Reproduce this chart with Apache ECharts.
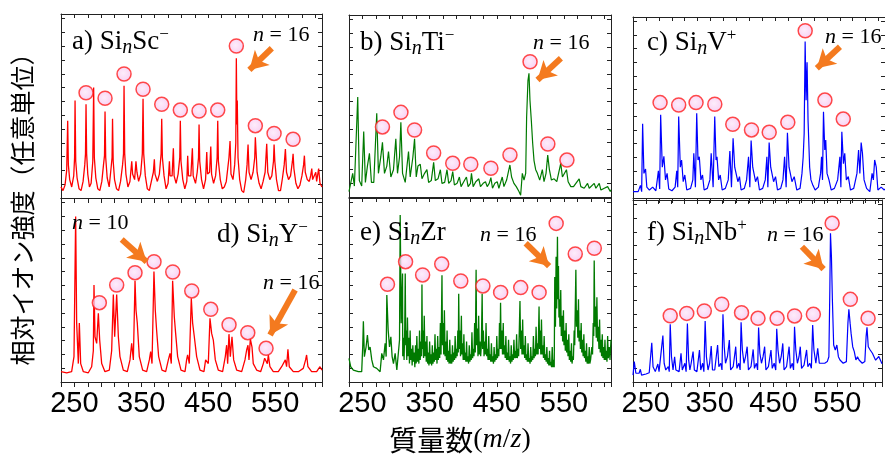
<!DOCTYPE html>
<html><head><meta charset="utf-8">
<script src="https://cdn.jsdelivr.net/npm/echarts@6/dist/echarts.min.js"></script>
<style>html,body{margin:0;padding:0;background:#fff}#c{width:885px;height:459px}</style>
</head><body><div id="c"></div>
<script>
const tickLabels = [250, 350, 450, 550];

const specA = [[230,6],[233,4],[236,7],[238.5,15],[240,42],[241,18],[243,10],[246,6],[249,12],[250.3,22],[251,53],[252,20],[254,11],[257,5],[260,4],[263,9],[265.5,18],[266.6,24],[267.4,51],[268.3,24],[270,13],[272.5,6],[275,8],[277.5,20],[278.8,60],[279.8,22],[282,11],[285,5],[288,4],[291,9],[293.5,18],[295,23],[295.8,47],[296.8,22],[299,11],[302,6],[305,17],[306.3,22],[307,43],[308,20],[310,10],[313,5],[316,4],[319,9],[322,18],[323.4,24],[324.2,61],[325.2,24],[327,13],[330,6],[333,9],[335.7,20],[337,13],[340,10],[342,20],[343.5,14],[346,9],[349,13],[351.5,24],[352.6,54],[353.6,24],[356,12],[359,5],[362,4],[365,9],[368,14],[369.5,21],[370.5,13],[374,9],[377,13],[379.6,24],[380.5,43],[381.5,22],[384,12],[387,5],[390,8],[392,20],[393,12],[396,12],[397.9,27],[399,12],[402,8],[405,13],[407.5,22],[408.3,42],[409.3,20],[412,10],[415,5],[418,9],[419.3,23],[420.5,12],[424,12],[426.3,27],[427.5,12],[431,8],[433.5,14],[435.5,22],[436.3,40],[437.3,20],[440,10],[443,5],[446,10],[447.8,25],[449,13],[452,14],[453.8,28],[455,13],[458,8],[461,12],[463.3,22],[464.2,42],[465.2,20],[468,10],[471,5],[474,6],[477,9],[479,10],[481,22],[482.6,31],[484,13],[487,10],[489.5,18],[491.2,30],[492,76],[492.8,40],[493.4,53],[494.5,22],[497,10],[500,4],[503,3],[506,10],[508,18],[509.5,29],[511,14],[514,10],[517,14],[519.5,22],[520.4,33],[521.5,25],[523,14],[526,8],[529,5],[532,9],[535,14],[537.4,29.5],[539,14],[542,10],[545,12],[547.5,20],[548.4,29],[549.5,20],[552,10],[555,4],[558,4],[561,11],[563.5,18],[565.3,26.6],[567,14],[570,10],[573,12],[575.8,20],[576.8,24],[578,16],[581,8],[584,5],[587,7],[590,12],[592.5,18],[593.7,23],[595,14],[598,10],[601,9],[603,12],[604.7,16],[606,10],[608,9],[610.7,14],[612,9],[614,8],[615,16],[617,8],[620,6]];

const specB = [[230,3],[231.5,2],[235.5,13],[238,6],[243,55],[245.4,9],[248.9,6],[251.9,36],[254.4,8],[257.4,17],[260.4,24],[263.4,8],[266.9,8],[271.3,46],[273.8,13],[277.3,22],[279.8,30],[282.8,13],[286.3,17],[288.8,25],[292.3,11],[296.2,15],[299.7,32],[302.2,13],[305.2,22],[307.2,41],[309.7,13],[313.7,8],[318.6,25],[321.1,11],[325.1,22],[327.6,32],[330.1,11],[332.6,17],[336.1,18],[338.6,10],[342.5,13],[346,15],[348.5,8],[352.5,9],[356,19],[358.5,9],[362.5,10],[366,15],[368.4,7.5],[372.4,8],[375.9,15],[378.4,7.5],[381.9,9],[384.4,14],[386.9,6.6],[390.9,7.5],[394.3,11],[396.8,5.7],[400.8,8.4],[404.8,11],[407.3,5.7],[410.8,7.5],[412.3,13],[414.8,5.7],[418.7,8.4],[423.2,10],[425.7,5.7],[429.7,7.5],[433.2,8.4],[435.7,5.7],[438.7,7.5],[441.2,10.6],[443.6,4.8],[447.1,7.5],[450.6,8.4],[453.1,4.8],[458.1,11],[460.6,5.7],[464.6,9.3],[469.5,17.6],[472,11],[475.5,7.5],[479,5.7],[483,3],[485.5,1],[488,13],[490.5,9.3],[493,13],[494.4,44],[496.4,64],[497.9,68],[499.4,53],[501.4,42],[503.4,29.5],[505.4,20],[507.9,15],[510.4,13],[513.9,9.3],[517.8,15],[520.3,8.4],[523.3,13],[525.8,23],[528.3,15],[531.3,9.3],[535.3,10],[539.3,8.4],[545.2,18.5],[547.7,11],[550.2,11],[553.7,15],[556.2,8.4],[560.2,5.7],[564.2,5.7],[572.6,10],[575.1,5.7],[580.1,4.8],[585.1,7.5],[587.6,4.8],[595,7.5],[597.5,4.8],[602.5,7.5],[605,3.8],[610,4.8],[615,5.7],[618.9,3],[620,4]];

const specC = [[230,3.5],[238,3.5],[241.5,7],[243.4,3.5],[244.9,41],[246.9,13.6],[249.4,16],[251.4,6],[255.4,4.4],[260.4,6],[265.4,4],[269.3,15],[271.3,5],[272.8,46],[275.3,17],[277.8,23],[280.3,10],[282.8,13.6],[285.3,5],[290.3,4],[295.2,6],[297.7,15],[299.2,6],[300.7,45],[303.2,17],[305.2,21],[307.7,9],[310.2,12.7],[313.2,4.4],[319.1,5.3],[322.6,10],[324.1,24.7],[326.6,6],[328.6,46.8],[330.6,21],[332.6,22.8],[335.1,10],[337.6,12.7],[340.1,4.4],[345,5.3],[349,10],[351,24.7],[354,6],[356.5,45],[358.5,21],[360,22.8],[362.5,10],[365,12.7],[368,4.4],[372.9,5.3],[377.4,10],[379.9,26],[382.4,6],[384.9,33],[387.4,17],[389.9,17],[392.3,9],[394.8,11.8],[397.3,4.4],[402.3,5.3],[405.8,10],[408.8,22.8],[410.8,6],[412.8,31.7],[415.3,17],[417.2,17],[419.7,9],[422.7,11.8],[425.7,4.4],[430.7,5.3],[434.7,10],[437.2,22.8],[438.7,6],[440.7,30.6],[443.1,17],[445.1,17],[447.6,9],[450.6,11.8],[453.6,4.4],[458.6,5.3],[462.1,10],[464.6,22.8],[467,6],[469,36],[471.5,17],[473.5,17],[476,9],[479.5,11.8],[483.5,4.4],[488.5,5.3],[491.5,13.6],[493.4,22.8],[494.9,35.7],[496.4,86.4],[497.9,54],[499.4,75],[500.9,43],[503.4,17],[505.4,10],[508.4,7],[511.9,4.4],[516.9,6],[520.3,13.6],[521.8,22.8],[523.3,10],[524.8,47.7],[526.8,26.5],[528.3,32],[530.3,13.6],[533.3,10],[536.8,4.4],[541.7,5.3],[546.7,10],[550.2,22.8],[551.7,6],[553.2,36.6],[555.7,19],[557.7,24.7],[560.2,10],[563.2,11.8],[566.6,4.4],[571.6,5.3],[576.6,13.6],[579.1,26.5],[581.1,13.6],[583.1,30.6],[585.1,24.7],[587.6,10],[591.5,5.3],[596.5,3.5],[600,13.6],[602,10],[604,21],[606.5,17],[609,4.4],[614,6],[618.9,4.4],[620,5]];

const specD = [[230,5.6],[238.5,5],[245.9,5.6],[249.4,13.8],[251.9,90],[253.4,32],[255.9,10],[257.4,32],[259.4,10],[263.4,5.6],[270.8,5],[275.8,8.3],[278.3,17],[279.3,52.7],[280.8,24.6],[283.3,21],[285.8,37.3],[287.8,22.8],[290.8,10],[295.7,5.6],[302.2,6.5],[305.7,17],[308.2,47.6],[310.2,24.6],[313.2,47.6],[315.7,24.6],[318.1,13.8],[323.1,6.5],[329.1,5.6],[333.1,12],[335.6,21],[338.1,12],[340.6,55],[342.1,39],[344,32],[347,13.8],[352,6.5],[358,5.6],[362,12],[364,16.5],[366,10],[368.9,60],[370.9,39],[372.9,28],[375.9,13.8],[380.9,6.5],[386.4,5.6],[390.4,12],[392.9,15.6],[394.8,10],[396.8,55],[399.3,35.5],[401.3,26.4],[404.3,13.8],[409.3,6.5],[415.3,5.6],[417.7,12],[419.2,14.7],[421.7,10],[424.7,45.5],[426.7,32],[429.2,24.6],[432.7,13.8],[437.7,6.5],[443.6,5.6],[446.1,12],[447.6,12.9],[450.1,10],[452.6,34.6],[455.1,26.4],[457.6,22.8],[460.6,12],[465,6.5],[471.5,5.6],[475.5,13.8],[477.5,20],[479,10],[481,26],[483,13.8],[485.5,24.6],[488,12],[492.5,6.5],[500,5.6],[504.9,12],[507.4,17.4],[509.4,20],[510.9,12],[512.9,23.4],[515.4,19],[517.3,10],[522.3,6.5],[528.3,5.6],[532.3,10],[534.3,12.9],[536.3,13.8],[538.3,10],[539.8,14.7],[542.2,8.3],[547.2,5.6],[554.7,5.6],[559.7,8.3],[565.2,12],[567.1,8.3],[569.1,17.8],[571.1,8.3],[577.1,5.6],[584.6,5.6],[592,7.4],[595.5,12],[597,14.7],[599,8.3],[604.5,5.6],[612,5.6],[617,8.3],[620,6.5]];

const specE = [[230,12.9],[232.5,8.3],[236.5,6.5],[243.9,5.6],[248.9,5.6],[250.4,19],[251.4,33],[252.9,13.8],[255.4,19],[257.4,25.5],[259.4,17.4],[261.4,19],[263.9,12],[266.4,8.3],[271.3,7.4],[276.3,5.6],[278.8,15.6],[281.3,12],[283.8,21],[285.3,13.8],[286.3,47.3],[288.3,28.3],[290.3,19],[292.3,24.6],[294.2,13.8],[296.2,10],[298.7,15.6],[301.2,6.5],[303.7,5.6],[305.2,22.8],[306.2,90.8],[307.7,31.9],[309.7,59],
[310,14],[311,24],[312,12],[313,30],[313.7,59],[314.5,20],[315,28],[316,12],[317,35],[318,14],[319,24],[320,10],[321,28],[322,12],[323,18],[324,9],[325,20],[326,11],[327,16],[328,8],[329,20],[330,10],[331,25],[332,11],[333,18],[334,10],[335,28],[336,12],[337,22],[338,14],[338.6,53],[339.3,18],[340,28],[341,13],[342,36],[343,14],[344,22],[345,11],[346,25],[347,10],[348,16],[349,9],[350,22],[351,10],[352,15],[353,9],[354,20],[355,10],[356,16],[357,11],[358,26],[359,12],[360,18],[361,10],[362,25],[363,12],[364,19],[365,13],[366,32],[367,15],[368.4,58],[369.2,20],[370,32],[371,15],[372,39],[373,14],[374,22],[375,12],[376,28],[377,11],[378,17],[379,10],[380,23],[381,10],[382,15],[383,10],[384,20],[385,11],[386,16],[387,12],[388,25],[389,13],[390,18],[391,14],[392,28],[392.7,16],[393.3,48],[394.2,18],[395,28],[396,14],[397.3,36],[398,15],[399,21],[400,12],[401,26],[402,12],[403,16],[404,11],[405,22],[406,11],[407,14],[408,10],[409,20],[410,11],[411,15],[412,12],[413,27],[414,13],[415,18],[416,14],[417,32],[418,16],[419.2,61],[420,20],[421,29],[422,14],[423,36],[424,15],[425,22],[426,14],[427,20],[428.2,48],[429,18],[430,28],[431,14],[432,22],[433,15],[434,32],[435,14],[436,18],[437,12],[438,25],[439,12],[440,15],[441,11],[442,21],[443,11],[444,14],[445,10],[446,19],[447,11],[448,15],[449,12],[450,25],[451,13],[452,18],[453,14],[454,32],[454.8,18],[455.6,43],[456.5,18],[457.5,28],[458.5,15],[459.6,32],[460.5,15],[461.5,20],[462.5,13],[463.5,25],[464.5,12],[465.5,16],[466.5,12],[467.5,23],[468.5,11],[469.5,14],[470.5,10],[471.5,20],[472.5,11],[473.5,15],[474.5,12],[475.5,23],[476.5,13],[477.5,17],[478.5,13],[479.5,26],[480.5,13],[481.5,18],[482.5,14],[483.5,28],[484.5,44],[485.5,18],[486.5,28],[487.5,15],[488.5,34],[489.5,15],[490.5,20],[491.5,13],[492.5,25],[493.5,12],[494.5,15],[495.5,11],[496.5,21],[497.5,11],[498.5,13],[499.5,10],[500.5,19],[501.5,11],[502.5,14],[503.5,12],[504.5,25],[505.5,13],[506.5,18],[507.5,14],[508.5,30],[509.5,15],[510.5,21],[511.5,15],[512.9,41],[513.7,18],[514.5,28],[515.5,15],[516.5,34],[517.5,15],[518.5,20],[519.5,13],[520.5,25],[521.5,12],[522.5,15],[523.5,11],[524.5,19],[525.5,10],[526.5,13],[527.5,9],[528.5,17],[529.5,9],[530.5,11],[531.5,8],[532.5,19],[533.5,8],[534.5,12],[535.5,8],
[536.3,57],[537.3,30],[538.3,68],[539.2,40],[540.3,79],[541,45],[541.8,63],[542.5,35],[543.2,45],[544,30],[545.2,50],[546,25],[547.2,36],[548,22],[549.2,39],[550,20],[551.2,28],[552,17],[553.2,32],[554,16],[555.2,23],[556,14],[557.2,26],[558,12],[559.2,17],[560,11],[561.2,21],[562,10],[563.2,14],[564,12],[565.2,28],[566,20],[566.8,40],[567.7,61],[568.6,30],[569.7,39],[570.6,24],[571.6,45],[572.5,22],[573.6,28],[574.5,18],[575.6,32],[576.5,16],[577.6,23],[578.5,14],[579.6,26],[580.5,13],[581.6,17],[582.5,11],[583.6,21],[584.5,10],[585.6,14],[586.5,10],[587.6,19],[588.5,10],[589.6,12],[590.5,11],[591.5,19],[592.5,15],[593.5,32],[594.3,25],[595,66],[596,30],[597,41],[598,24],[599,46],[600,22],[601,30],[602,18],[603,34],[604,16],[605,23],[606,14],[607,26],[608,13],[609,19],[610,12],[611,23],[612,12],[613,17],[614,11],[615,25],[616,13],[617.4,19],[618.5,12],[620,23]];

const specF = [[230,3.8],[232,11.2],[234.5,4.8],[239.5,4.8],[241.5,7],[243.4,3.8],[250.4,4.4],[255.4,5.1],[257.9,5.7],[259.4,21.6],[261.4,8.4],[264.9,5.7],[268.9,9.9],[270.8,5.7],[273.8,6.6],[276.8,25.5],[278.8,10.3],[281.3,6.6],[285.3,8.4],[286.8,5.7],[288.3,31.7],[290.3,13.9],[292.7,6.6],[295.2,13.9],[297.2,6.6],[302.2,5.7],[305.2,15.8],[307.2,6.6],[311.2,10.3],[313.2,5.7],[315.2,32.2],[317.2,12],[319.1,6.6],[321.1,10.3],[324.1,16.7],[326.1,6.6],[330.1,5.7],[334.1,17.6],[336.1,6.6],[339.1,10.3],[341,5.7],[343,33.5],[345,13.9],[347.5,6.6],[350,10.3],[352.5,19.8],[354.5,6.6],[358,6.6],[362.5,20.3],[364.5,8.4],[367.4,10.3],[369.4,6.6],[370.9,37.2],[372.9,19.4],[374.9,10.3],[377.9,13.9],[380.9,23],[382.9,6.6],[386.9,8.4],[390.9,19.4],[392.8,7.5],[395.8,10.3],[397.8,6.6],[399.3,32.8],[401.3,17.6],[403.8,10.3],[406.3,13.9],[408.8,19.4],[410.8,6.6],[414.8,8.4],[418.2,17.9],[420.2,7.5],[423.2,10.3],[425.2,6.6],[426.7,29.9],[428.7,15.8],[431.2,10.3],[433.7,13.9],[436.2,19.4],[438.2,6.6],[442.1,8.4],[446.1,17.6],[448.1,7.5],[451.1,10.3],[453.6,6.6],[455.1,29.3],[457.1,17.6],[459.6,10.3],[462.1,13.9],[464.6,21.2],[466.6,6.6],[470.5,8.4],[474.5,19.4],[476.5,7.5],[479.5,10.3],[481.5,6.6],[483,30.4],[485,17.6],[487.5,10.3],[490,13.9],[492,19.4],[494,7.5],[497.9,9.3],[501.9,17.6],[503.9,8.4],[506.9,10.3],[509.4,7.5],[511.4,31.3],[513.4,17.6],[516.4,10.3],[519.3,18.5],[521.8,10.3],[525.3,10.3],[530.3,10.3],[534.3,11.2],[536.8,13.9],[538.3,50.5],[539.3,81.7],[540.8,68.9],[542.3,45],[544.3,20.3],[546.8,17.6],[549.3,20.3],[551.7,13.9],[554.2,12.1],[559.2,10.3],[564.2,11.2],[566.6,32.2],[568.1,40],[570.1,32.2],[571.6,26.7],[574.1,19.4],[576.6,16.7],[579.1,12.1],[581.6,13.9],[584.1,12.1],[586.6,12.1],[589.1,10.3],[593.1,11.2],[595.1,24.9],[596.5,30],[598.5,19.4],[601.5,17.6],[605,15.8],[610,12],[615,14],[620,10]];

const circA = [[267.4,57.2],[295.8,54.2],[324.2,67.4],[352.6,59.1],[380.5,50.9],[408.3,47.8],[436.3,47.3],[464.2,47.8],[492,82.6],[520.4,39.3],[548.4,35.1],[576.8,31.9]];
const circB = [[279.8,38.5],[307.3,46.5],[327.6,36.8],[356,24.2],[384.4,18.5],[411.3,18],[441.2,15.8],[469.6,23.1],[499.5,74.3],[526,29.1],[554.4,20.3]];
const circC = [[271.9,52.7],[300.7,51.4],[327.6,52.7],[356.6,51.8],[384.4,40.7],[413.4,37.6],[440.8,36.3],[469.6,41.8],[496.5,92.4],[527,54.1],[555.4,43.6]];
const circD = [[287.3,43.1],[313.2,52.7],[340.6,59.4],[369,65.4],[397,59.8],[425.4,49.5],[453.8,39.5],[481.1,31.1],[509.1,26.8],[536.4,18.3]];
const circE = [[287.3,53.1],[314.2,65.4],[339.6,58.2],[368,64.1],[396.4,54.9],[429.3,52.2],[455.7,48.7],[485.6,51.3],[513,48.7],[538.4,86.2],[566.8,69.6],[595.2,72.7]];
const circF = [[288.3,36.4],[314.2,37.7],[341.7,39],[369,42.7],[400,38.1],[425.8,35],[455.7,35],[483.1,36.3],[512.5,37.2],[541.9,87.2],[570.4,45.4],[598.2,35]];

const arrowA = [[[545,81.4],[511.5,69.6]]];
const arrowB = [[[545.4,76.2],[510.6,64.3]]];
const arrowC = [[[550.3,83.6],[514.5,71.7]]];
const arrowD = [[[320.7,77.5],[358,65.4]],[[579.8,50],[542.4,25.5]]];
const arrowE = [[[493,75.4],[527.9,63]]];
const arrowF = [[[494.6,74.3],[528.5,62]]];

const SERIF = "'Liberation Serif','Times New Roman',serif";
const SANS = "'Liberation Sans','Arial',sans-serif";
const CJK = "'Noto Sans CJK JP','Noto Sans CJK SC',sans-serif";
const AX = '#222';

const panels = [
  {grid:{left:61,width:261,top:14,height:184}, spec:specA, circ:circA, arrows:arrowA, color:'#ff0000', lw:1.3, labels:false},
  {grid:{left:349,width:262,top:15,height:182}, spec:specB, circ:circB, arrows:arrowB, color:'#007a00', lw:1.2, labels:false},
  {grid:{left:633,width:261,top:17,height:181}, spec:specC, circ:circC, arrows:arrowC, color:'#0000ff', lw:1.2, labels:false},
  {grid:{left:61,width:261,top:198,height:184}, spec:specD, circ:circD, arrows:arrowD, color:'#ff0000', lw:1.3, labels:true},
  {grid:{left:349,width:262,top:198,height:184}, spec:specE, circ:circE, arrows:arrowE, color:'#007a00', lw:1.3, labels:true},
  {grid:{left:633,width:261,top:200,height:182}, spec:specF, circ:circF, arrows:arrowF, color:'#0000ff', lw:1.2, labels:true}
];

const grids=[], xAxes=[], yAxes=[], series=[];
panels.forEach((p,i)=>{
  grids.push(Object.assign({containLabel:false, show:false}, p.grid));
  const xb = xAxes.length;
  xAxes.push({type:'value', gridIndex:i, position:'bottom', min:230, max:620, interval:20,
    axisLine:{show:true,onZero:false,lineStyle:{color:AX,width:1}},
    axisTick:{show:true,inside:false,length:5,lineStyle:{color:AX}},
    axisLabel:{show:p.labels, margin:7, fontSize:29, fontFamily:SANS, color:'#000',
      formatter:v=> tickLabels.includes(v)? String(v):''},
    splitLine:{show:false}});
  xAxes.push({type:'value', gridIndex:i, position:'top', min:230, max:620, interval:20,
    axisLine:{show:true,onZero:false,lineStyle:{color:AX,width:1}},
    axisTick:{show:true,inside:true,length:4,lineStyle:{color:AX}},
    axisLabel:{show:false}, splitLine:{show:false}});
  const yb = yAxes.length;
  yAxes.push({type:'value', gridIndex:i, position:'left', min:0, max:100, interval:7.5,
    axisLine:{show:true,onZero:false,lineStyle:{color:AX,width:1}},
    axisTick:{show:true,inside:true,length:4,lineStyle:{color:AX}},
    axisLabel:{show:false}, splitLine:{show:false}});
  yAxes.push({type:'value', gridIndex:i, position:'right', min:0, max:100, interval:7.5,
    axisLine:{show:true,onZero:false,lineStyle:{color:AX,width:1}},
    axisTick:{show:true,inside:true,length:4,lineStyle:{color:AX}},
    axisLabel:{show:false}, splitLine:{show:false}});
  series.push({type:'line', xAxisIndex:xb, yAxisIndex:yb, data:p.spec, showSymbol:false,
    lineStyle:{color:p.color,width:p.lw}, silent:true, z:2});
  series.push({type:'scatter', xAxisIndex:xb, yAxisIndex:yb, data:p.circ, symbol:'circle', symbolSize:14,
    itemStyle:{color:{type:'radial',x:0.45,y:0.45,r:0.6,colorStops:[{offset:0,color:'#fde8fa'},{offset:1,color:'#f6c2ee'}]},
      borderColor:'#ff1e1e',borderWidth:1.5}, silent:true, z:4,
    markLine:{silent:true, symbol:['none','arrow'], symbolSize:[16,18], animation:false,
      label:{show:false}, lineStyle:{color:'#f47a1f',width:6,type:'solid'},
      emphasis:{disabled:true},
      data:p.arrows.map(a=>[{coord:a[0]},{coord:a[1]}])}
  });
});

const rich = {
  m:{fontFamily:SERIF,fontSize:27,fill:'#000'},
  i:{fontFamily:SERIF,fontSize:20,fontStyle:'italic',fill:'#000',padding:[12,0,0,0]},
  s:{fontFamily:SERIF,fontSize:17,fill:'#000',padding:[0,0,14,0]}
};
const nrich = {
  i:{fontFamily:SERIF,fontSize:22,fontStyle:'italic',fill:'#000'},
  t:{fontFamily:SERIF,fontSize:22,fill:'#000'}
};
function lab(x,y,text){return {type:'text',x:x,y:y,z:100,style:{text:text,rich:rich,align:'left',verticalAlign:'middle',fill:'#000'}};}
function nlab(x,y,num){return {type:'text',x:x,y:y,z:100,style:{text:'{i|n}{t| = '+num+'}',rich:nrich,align:'left',verticalAlign:'middle',fill:'#000'}};}

const graphics = [
  lab(72,42,'{m|a) Si}{i|n}{m|Sc}{s|−}'),
  lab(360,43,'{m|b) Si}{i|n}{m|Ti}{s|−}'),
  lab(647,43,'{m|c) Si}{i|n}{m|V}{s|+}'),
  lab(217,235,'{m|d) Si}{i|n}{m|Y}{s|−}'),
  lab(360,233,'{m|e) Si}{i|n}{m|Zr}'),
  lab(647,233,'{m|f) Si}{i|n}{m|Nb}{s|+}'),
  nlab(253,35,16), nlab(533,43,16), nlab(825,37,16),
  nlab(72,223,10), nlab(263,283,16), nlab(480,235,16), nlab(767,235,16),
  {type:'text', x:22, y:203, rotation:Math.PI/2, z:100,
    style:{text:'相対イオン強度（任意単位）', font:'25px '+CJK, fill:'#000', align:'center', verticalAlign:'middle'}},
  {type:'text', x:460, y:440, z:100,
    style:{text:'{c|質量数}{p|(}{i|m}{p|/}{i|z}{p|)}', align:'center', verticalAlign:'middle', fill:'#000',
      rich:{c:{fontFamily:CJK,fontSize:28,fill:'#000'},p:{fontFamily:SERIF,fontSize:28,fill:'#000'},i:{fontFamily:SERIF,fontSize:28,fontStyle:'italic',fill:'#000'}}}}
];

const chart = echarts.init(document.getElementById('c'), null, {renderer:'canvas'});
chart.setOption({animation:false, backgroundColor:'#fff', grid:grids, xAxis:xAxes, yAxis:yAxes, series:series, graphic:graphics});
</script></body></html>
